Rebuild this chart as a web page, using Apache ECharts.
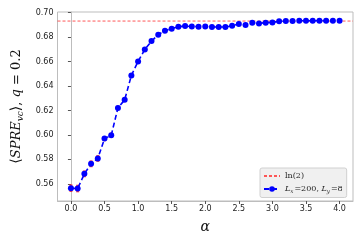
<!DOCTYPE html>
<html>
<head>
    <meta charset="utf-8" />
    <title>SPRE vs alpha</title>
    <style>
        html, body { margin: 0; padding: 0; background: #fff; }
        #main { width: 363px; height: 242px; }
    </style>
</head>
<body>
    <div id="main"></div>
    <script src="https://cdn.jsdelivr.net/npm/echarts@6/dist/echarts.min.js"></script>
    <script type="text/javascript">
        // values
        var alphas = [0.0, 0.1, 0.2, 0.3, 0.4, 0.5, 0.6, 0.7, 0.8, 0.9,
            1.0, 1.1, 1.2, 1.3, 1.4, 1.5, 1.6, 1.7, 1.8, 1.9,
            2.0, 2.1, 2.2, 2.3, 2.4, 2.5, 2.6, 2.7, 2.8, 2.9,
            3.0, 3.1, 3.2, 3.3, 3.4, 3.5, 3.6, 3.7, 3.8, 3.9, 4.0];
        var spre = [0.5565, 0.5562, 0.5682, 0.5764, 0.5808, 0.5970, 0.5997, 0.6221, 0.6287, 0.6486,
            0.6601, 0.6699, 0.6767, 0.6820, 0.6852, 0.6869, 0.6885, 0.6890, 0.6887, 0.6885,
            0.6887, 0.6882, 0.6882, 0.6882, 0.6893, 0.6907, 0.6899, 0.6918, 0.6912, 0.6918,
            0.6920, 0.6929, 0.6931, 0.6931, 0.6933, 0.6933, 0.6933, 0.6933, 0.6934, 0.6934, 0.6934];
        var spreErr = [0.0025, 0.0025, 0.0022, 0.0022, 0.0022, 0.0015, 0.0015, 0.0012, 0.0012, 0.0010,
            0.0010, 0.0008, 0.0008, 0.0006, 0.0006, 0.0005, 0.0005, 0.0005, 0.0005, 0.0005,
            0.0005, 0.0004, 0.0004, 0.0004, 0.0004, 0.0004, 0.0004, 0.0003, 0.0003, 0.0003,
            0.0003, 0.0003, 0.0003, 0.0003, 0.0003, 0.0003, 0.0003, 0.0003, 0.0003, 0.0003, 0.0003];
        var ln2 = 0.6931;
        var xTicks = [0.0, 0.5, 1.0, 1.5, 2.0, 2.5, 3.0, 3.5, 4.0];
        var yTicks = [0.56, 0.58, 0.60, 0.62, 0.64, 0.66, 0.68, 0.70];
        var xRange = [-0.2, 4.2];
        var yRange = [0.546, 0.7005];

        var mainData = alphas.map(function (a, i) { return [a, spre[i]]; });
        var errData = alphas.map(function (a, i) { return [a, spre[i], spreErr[i]]; });

        var myChart = echarts.init(document.getElementById('main'));
        var option = {
            animation: false,
            grid: {
                left: 57.5, right: 10, top: 12, bottom: 41,
                show: true, borderColor: '#bdbdbd', borderWidth: 1
            },
            legend: {
                orient: 'vertical',
                left: 260, top: 168,
                padding: [4, 4, 3, 3],
                itemWidth: 16, itemHeight: 7, itemGap: 5,
                backgroundColor: '#f0f0f0',
                borderColor: '#d0d0d0', borderWidth: 1, borderRadius: 2,
                data: [
                    { name: 'ln2', itemStyle: { opacity: 0 } },
                    { name: 'L' }
                ],
                formatter: function (name) {
                    if (name === 'ln2') return '{r|ln(2)}';
                    return '{i|L}{s|x}{r|=200, }{i|L}{s|y}{r|=8}';
                },
                textStyle: {
                    fontFamily: 'DejaVu Serif', fontSize: 8, color: '#222',
                    rich: {
                        r: { fontFamily: 'DejaVu Serif', fontSize: 8, color: '#222' },
                        i: { fontFamily: 'DejaVu Serif', fontStyle: 'italic', fontSize: 8, color: '#222' },
                        s: { fontFamily: 'DejaVu Serif', fontStyle: 'italic', fontSize: 5.5, color: '#222', padding: [5, 1, 0, 0] }
                    }
                }
            },
            xAxis: {
                type: 'value',
                min: xRange[0], max: xRange[1],
                name: 'α',
                nameLocation: 'middle',
                nameGap: 19,
                nameTextStyle: { fontFamily: 'DejaVu Serif', fontStyle: 'italic', fontSize: 14, color: '#111' },
                axisLine: { show: true, lineStyle: { color: '#bdbdbd' } },
                splitLine: { show: false },
                axisTick: { length: 3, customValues: xTicks, lineStyle: { color: '#555' } },
                axisLabel: {
                    customValues: xTicks, margin: 4,
                    fontFamily: 'DejaVu Sans', fontSize: 8, color: '#222',
                    formatter: function (v) { return v.toFixed(1); }
                }
            },
            yAxis: {
                type: 'value',
                min: yRange[0], max: yRange[1],
                name: '{b|⟨}{i|SPRE}{s|vc}{b|⟩}{r|, }{i|q}{r| = 0.2}',
                nameLocation: 'middle',
                nameGap: 26,
                nameRotate: 90,
                nameTextStyle: {
                    rich: {
                        b: { fontFamily: 'DejaVu Serif', fontSize: 14, color: '#111' },
                        i: { fontFamily: 'DejaVu Serif', fontStyle: 'italic', fontSize: 13, color: '#111' },
                        s: { fontFamily: 'DejaVu Serif', fontStyle: 'italic', fontSize: 9, color: '#111', padding: [8, 0, 0, 0] },
                        r: { fontFamily: 'DejaVu Serif', fontSize: 13, color: '#111' }
                    }
                },
                axisLine: { show: true, lineStyle: { color: '#bdbdbd' } },
                splitLine: { show: false },
                axisTick: { length: 3, customValues: yTicks, lineStyle: { color: '#555' } },
                axisLabel: {
                    customValues: yTicks, margin: 4,
                    fontFamily: 'DejaVu Sans', fontSize: 8, color: '#222',
                    formatter: function (v) { return v.toFixed(2); }
                }
            },
            series: [
                {
                    name: 'ln2',
                    type: 'line',
                    data: [[xRange[0], ln2], [xRange[1], ln2]],
                    symbol: 'none',
                    lineStyle: { color: '#ff3b3b', width: 1, type: [3, 2], opacity: 0.85 },
                    itemStyle: { color: '#ff3b3b' },
                    z: 1
                },
                {
                    name: 'errors',
                    type: 'custom',
                    data: errData,
                    z: 2,
                    renderItem: function (params, api) {
                        var x = api.value(0), y = api.value(1), e = api.value(2);
                        var lo = api.coord([x, y - e]);
                        var hi = api.coord([x, y + e]);
                        var style = { stroke: '#ff2020', lineWidth: 1.5, opacity: 0.8 };
                        return {
                            type: 'group',
                            children: [
                                { type: 'line', shape: { x1: lo[0], y1: lo[1], x2: hi[0], y2: hi[1] }, style: style },
                                { type: 'line', shape: { x1: lo[0] - 1.5, y1: lo[1], x2: lo[0] + 1.5, y2: lo[1] }, style: style },
                                { type: 'line', shape: { x1: hi[0] - 1.5, y1: hi[1], x2: hi[0] + 1.5, y2: hi[1] }, style: style }
                            ]
                        };
                    }
                },
                {
                    name: 'L',
                    type: 'line',
                    data: mainData,
                    symbol: 'circle',
                    symbolSize: 6,
                    itemStyle: { color: '#0000ff' },
                    lineStyle: { color: '#0000ff', width: 1.6, type: [5, 3] },
                    z: 3
                }
            ]
        };

        option && myChart.setOption(option);
    </script>
</body>
</html>
